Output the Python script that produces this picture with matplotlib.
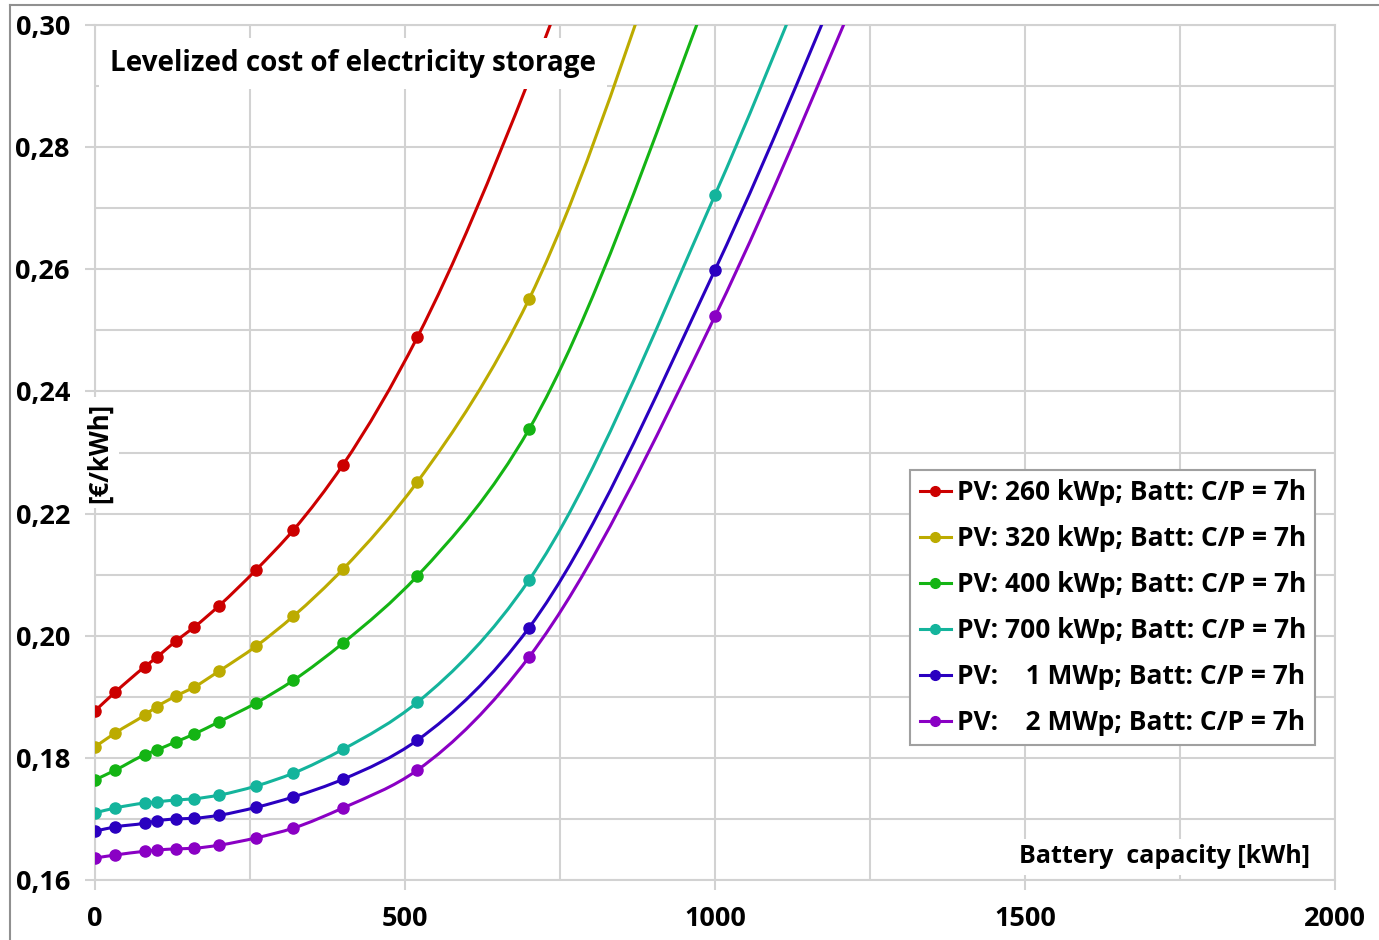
import numpy as np
import matplotlib
matplotlib.use("Agg")
import matplotlib.pyplot as plt
from matplotlib.path import Path
from matplotlib.patches import PathPatch
from matplotlib.lines import Line2D
from matplotlib.ticker import MultipleLocator, FuncFormatter

plt.rcParams['font.family'] = ['Open Sans', 'DejaVu Sans']
plt.rcParams['font.weight'] = 'bold'

# données (capacité batterie en kWh, coût en €/kWh)
capacite = [0, 33, 80, 100, 130, 160, 200, 260, 320, 400, 520, 700, 1000, 1300]
pv_260 = [0.1877, 0.1908, 0.1949, 0.1965, 0.1991, 0.2014, 0.2049, 0.2108, 0.2173, 0.2280, 0.2489, 0.2910, 0.380, 0.490]
pv_320 = [0.1818, 0.1841, 0.1870, 0.1884, 0.1901, 0.1916, 0.1942, 0.1983, 0.2032, 0.2109, 0.2252, 0.2551, 0.338, 0.425]
pv_400 = [0.1764, 0.1780, 0.1805, 0.1813, 0.1826, 0.1839, 0.1859, 0.1890, 0.1927, 0.1988, 0.2098, 0.2338, 0.308, 0.395]
pv_700 = [0.1710, 0.1718, 0.1726, 0.1728, 0.1731, 0.1733, 0.1739, 0.1754, 0.1775, 0.1814, 0.1891, 0.2091, 0.2722, 0.347]
pv_1m = [0.1680, 0.1687, 0.1693, 0.1697, 0.1700, 0.1701, 0.1706, 0.1719, 0.1736, 0.1765, 0.1829, 0.2013, 0.2599, 0.331]
pv_2m = [0.1636, 0.1641, 0.1647, 0.1649, 0.1651, 0.1652, 0.1657, 0.1669, 0.1685, 0.1718, 0.1780, 0.1965, 0.2523, 0.322]

series = [pv_260, pv_320, pv_400, pv_700, pv_1m, pv_2m]
labels = ["PV: 260 kWp; Batt: C/P = 7h",
          "PV: 320 kWp; Batt: C/P = 7h",
          "PV: 400 kWp; Batt: C/P = 7h",
          "PV: 700 kWp; Batt: C/P = 7h",
          "PV:    1 MWp; Batt: C/P = 7h",
          "PV:    2 MWp; Batt: C/P = 7h"]
couleurs = ['#cc0000', '#bcab00', '#14b414', '#14b49c', '#2a00c0', '#8a00c4']


def courbe_lissee(x, y):
    # ligne lissée : segments de Bézier cubiques, tangentes pondérées par les pas en x
    x = np.asarray(x, float)
    y = np.asarray(y, float)
    n = len(x)
    h = np.diff(x)
    d = np.diff(y) / h
    m = np.empty(n)
    m[1:-1] = (h[:-1] * d[1:] + h[1:] * d[:-1]) / (h[:-1] + h[1:])
    m[0] = d[0]
    m[-1] = d[-1]
    verts = [(x[0], y[0])]
    codes = [Path.MOVETO]
    for i in range(n - 1):
        verts += [(x[i] + h[i] / 3, y[i] + m[i] * h[i] / 3),
                  (x[i + 1] - h[i] / 3, y[i + 1] - m[i + 1] * h[i] / 3),
                  (x[i + 1], y[i + 1])]
        codes += [Path.CURVE4] * 3
    return Path(verts, codes)


fig = plt.figure(figsize=(13.79, 9.4), dpi=100)
ax = fig.add_axes([95 / 1379, 60 / 940, 1240 / 1379, 855 / 940])

for y, c in zip(series, couleurs):
    ax.add_patch(PathPatch(courbe_lissee(capacite, y), facecolor='none', edgecolor=c, lw=2.2, zorder=3))
    ax.plot(capacite, y, 'o', color=c, ms=8, zorder=4)

ax.set_xlim(0, 2000)
ax.set_ylim(0.16, 0.30)
ax.xaxis.set_major_locator(MultipleLocator(500))
ax.xaxis.set_minor_locator(MultipleLocator(250))
ax.yaxis.set_major_locator(MultipleLocator(0.02))
ax.yaxis.set_minor_locator(MultipleLocator(0.01))
ax.yaxis.set_major_formatter(FuncFormatter(lambda v, p: f"{v:.2f}".replace('.', ',')))
ax.grid(True, which='both', color='#d2d2d2', lw=1.5, zorder=0)
ax.set_axisbelow(True)
for s in ax.spines.values():
    s.set_color('#d2d2d2')
    s.set_linewidth(1.5)
ax.tick_params(which='major', length=7, width=1.5, color='#d2d2d2', labelsize=19.5)
ax.tick_params(axis='x', which='major', pad=12)
ax.tick_params(axis='y', which='major', pad=11)
ax.tick_params(which='minor', length=0)

# titre et étiquettes d'axes dans la zone de tracé
ax.text(0.012, 0.955, "Levelized cost of electricity storage", transform=ax.transAxes,
        ha='left', va='center', fontsize=20, fontweight='bold',
        bbox=dict(facecolor='white', edgecolor='none', pad=8), zorder=5)
ax.text(0.98, 0.027, "Battery  capacity [kWh]", transform=ax.transAxes,
        ha='right', va='center', fontsize=18, fontweight='bold',
        bbox=dict(facecolor='white', edgecolor='none', pad=4), zorder=5)
ax.text(0.004, 0.50, "[€/kWh]", transform=ax.transAxes, rotation=90,
        ha='center', va='center', fontsize=18.5, fontweight='bold',
        bbox=dict(facecolor='white', edgecolor='none', pad=4), zorder=5)

poignees = [Line2D([], [], color=c, lw=2.2, marker='o', ms=7) for c in couleurs]
leg = ax.legend(poignees, labels, loc='upper right', bbox_to_anchor=(0.984, 0.4795),
                borderaxespad=0, fancybox=False, framealpha=1, edgecolor='#a0a0a0',
                fontsize=19, handlelength=1.2, handletextpad=0.2, labelspacing=0.72,
                borderpad=0.35)
leg.set_zorder(6)
leg.get_frame().set_linewidth(1.5)

# cadre extérieur
fig.add_artist(Line2D([10 / 1379, 10 / 1379], [0, 1 - 5 / 940], color='#909090', lw=1.5))
fig.add_artist(Line2D([10 / 1379, 1], [1 - 5 / 940, 1 - 5 / 940], color='#909090', lw=1.5))

fig.savefig("out.png", dpi=100)
